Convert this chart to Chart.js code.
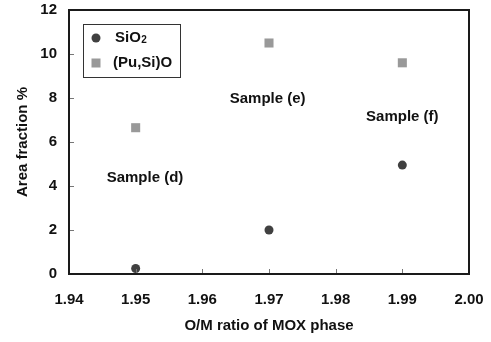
<!DOCTYPE html>
<html>
<head>
<meta charset="utf-8">
<script src="https://cdn.jsdelivr.net/npm/chart.js@4.4.0/dist/chart.umd.min.js"></script>
<style>
  html, body { margin: 0; padding: 0; background: #fff; }
</style>
</head>
<body>
<canvas id="graf" width="491" height="342"></canvas>
<script>
// data
var omRatio = [1.95, 1.97, 1.99]
var sio2 = [0.25, 2.0, 4.95]
var puSiO = [6.65, 10.5, 9.6]
var xTicks = [1.94, 1.95, 1.96, 1.97, 1.98, 1.99, 2.00]
var yTicks = [0, 2, 4, 6, 8, 10, 12]
var sampleNames = ['Sample (d)', 'Sample (e)', 'Sample (f)']
var sampleX = [1.9514, 1.9698, 1.99]
var sampleY = [4.36, 7.95, 7.14]

var fonte = 'bold 15px "Liberation Sans", Arial, sans-serif'

function pontos(ys){
    return omRatio.map(function(x, i){ return {x: x, y: ys[i]} })
}

// caixa, ticks para dentro, textos das amostras e legenda
var extras = {
    id: 'extras',
    afterDraw: function(chart){
        var ctx = chart.ctx
        var a = chart.chartArea
        var sx = chart.scales.x
        var sy = chart.scales.y
        ctx.save()

        // ticks internos
        ctx.strokeStyle = '#777'
        ctx.lineWidth = 1
        ctx.beginPath()
        xTicks.forEach(function(v){
            var px = Math.round(sx.getPixelForValue(v)) + 0.5
            ctx.moveTo(px, a.bottom)
            ctx.lineTo(px, a.bottom - 5)
        })
        yTicks.forEach(function(v){
            var py = Math.round(sy.getPixelForValue(v)) + 0.5
            ctx.moveTo(a.left, py)
            ctx.lineTo(a.left + 5, py)
        })
        ctx.stroke()

        // moldura
        ctx.strokeStyle = '#1a1a1a'
        ctx.lineWidth = 2
        ctx.strokeRect(a.left, a.top, a.right - a.left, a.bottom - a.top)

        // textos
        ctx.fillStyle = '#111'
        ctx.font = fonte
        ctx.textAlign = 'center'
        ctx.textBaseline = 'middle'
        sampleNames.forEach(function(t, i){
            ctx.fillText(t, sx.getPixelForValue(sampleX[i]), sy.getPixelForValue(sampleY[i]))
        })

        // legenda
        ctx.strokeStyle = '#333'
        ctx.lineWidth = 1
        ctx.strokeRect(83.5, 24.5, 97, 53)
        var ds = chart.data.datasets
        var rows = [38, 63]
        ds.forEach(function(d, i){
            ctx.fillStyle = d.backgroundColor
            if(d.pointStyle === 'circle'){
                ctx.beginPath()
                ctx.arc(96, rows[i], 4.5, 0, Math.PI * 2)
                ctx.fill()
            }else{
                ctx.fillRect(91.5, rows[i] - 4.5, 9, 9)
            }
        })
        ctx.fillStyle = '#111'
        ctx.textAlign = 'left'
        ctx.textBaseline = 'middle'
        ctx.font = fonte
        ctx.fillText('SiO', 115, rows[0])
        var w = ctx.measureText('SiO').width
        ctx.font = 'bold 10px "Liberation Sans", Arial, sans-serif'
        ctx.fillText('2', 115 + w + 0.5, rows[0] + 2)
        ctx.font = fonte
        ctx.fillText('(Pu,Si)O', 113, rows[1])

        ctx.restore()
    }
}

function gerarGrafico(){
    new Chart(document.getElementById('graf').getContext('2d'), {
        type: 'scatter',
        data: {
            datasets: [
                {
                    label: 'SiO2',
                    data: pontos(sio2),
                    pointStyle: 'circle',
                    radius: 4.5,
                    backgroundColor: '#404040',
                    borderWidth: 0
                },
                {
                    label: '(Pu,Si)O',
                    data: pontos(puSiO),
                    pointStyle: 'rect',
                    radius: 6.4,
                    backgroundColor: '#999999',
                    borderWidth: 0
                }
            ]
        },
        options: {
            responsive: false,
            animation: false,
            layout: { padding: { top: 10, right: 22, left: 0, bottom: 0 } },
            plugins: {
                legend: { display: false },
                tooltip: { enabled: false }
            },
            scales: {
                x: {
                    type: 'linear',
                    min: 1.94,
                    max: 2.00,
                    afterBuildTicks: function(s){ s.ticks = xTicks.map(function(v){ return {value: v} }) },
                    afterFit: function(s){
                        s.height = 68
                        s.paddingLeft = 0
                        s.paddingRight = 0
                    },
                    grid: { display: false, drawTicks: false },
                    border: { display: false },
                    ticks: {
                        padding: 17,
                        color: '#111',
                        font: { family: '"Liberation Sans", Arial, sans-serif', size: 15, weight: 'bold' },
                        callback: function(v){ return Number(v).toFixed(2) }
                    },
                    title: {
                        display: true,
                        text: 'O/M ratio of MOX phase',
                        color: '#111',
                        padding: { top: 0, bottom: 7 },
                        font: { family: '"Liberation Sans", Arial, sans-serif', size: 15, weight: 'bold' }
                    }
                },
                y: {
                    min: 0,
                    max: 12,
                    afterBuildTicks: function(s){ s.ticks = yTicks.map(function(v){ return {value: v} }) },
                    afterFit: function(s){
                        s.width = 69
                        s.paddingTop = 0
                        s.paddingBottom = 0
                    },
                    grid: { display: false, drawTicks: false },
                    border: { display: false },
                    ticks: {
                        padding: 12,
                        color: '#111',
                        font: { family: '"Liberation Sans", Arial, sans-serif', size: 15, weight: 'bold' }
                    },
                    title: {
                        display: true,
                        text: 'Area fraction %',
                        color: '#111',
                        padding: { top: 14, bottom: 0 },
                        font: { family: '"Liberation Sans", Arial, sans-serif', size: 15, weight: 'bold' }
                    }
                }
            }
        },
        plugins: [extras]
    })
}

gerarGrafico()
</script>
</body>
</html>
